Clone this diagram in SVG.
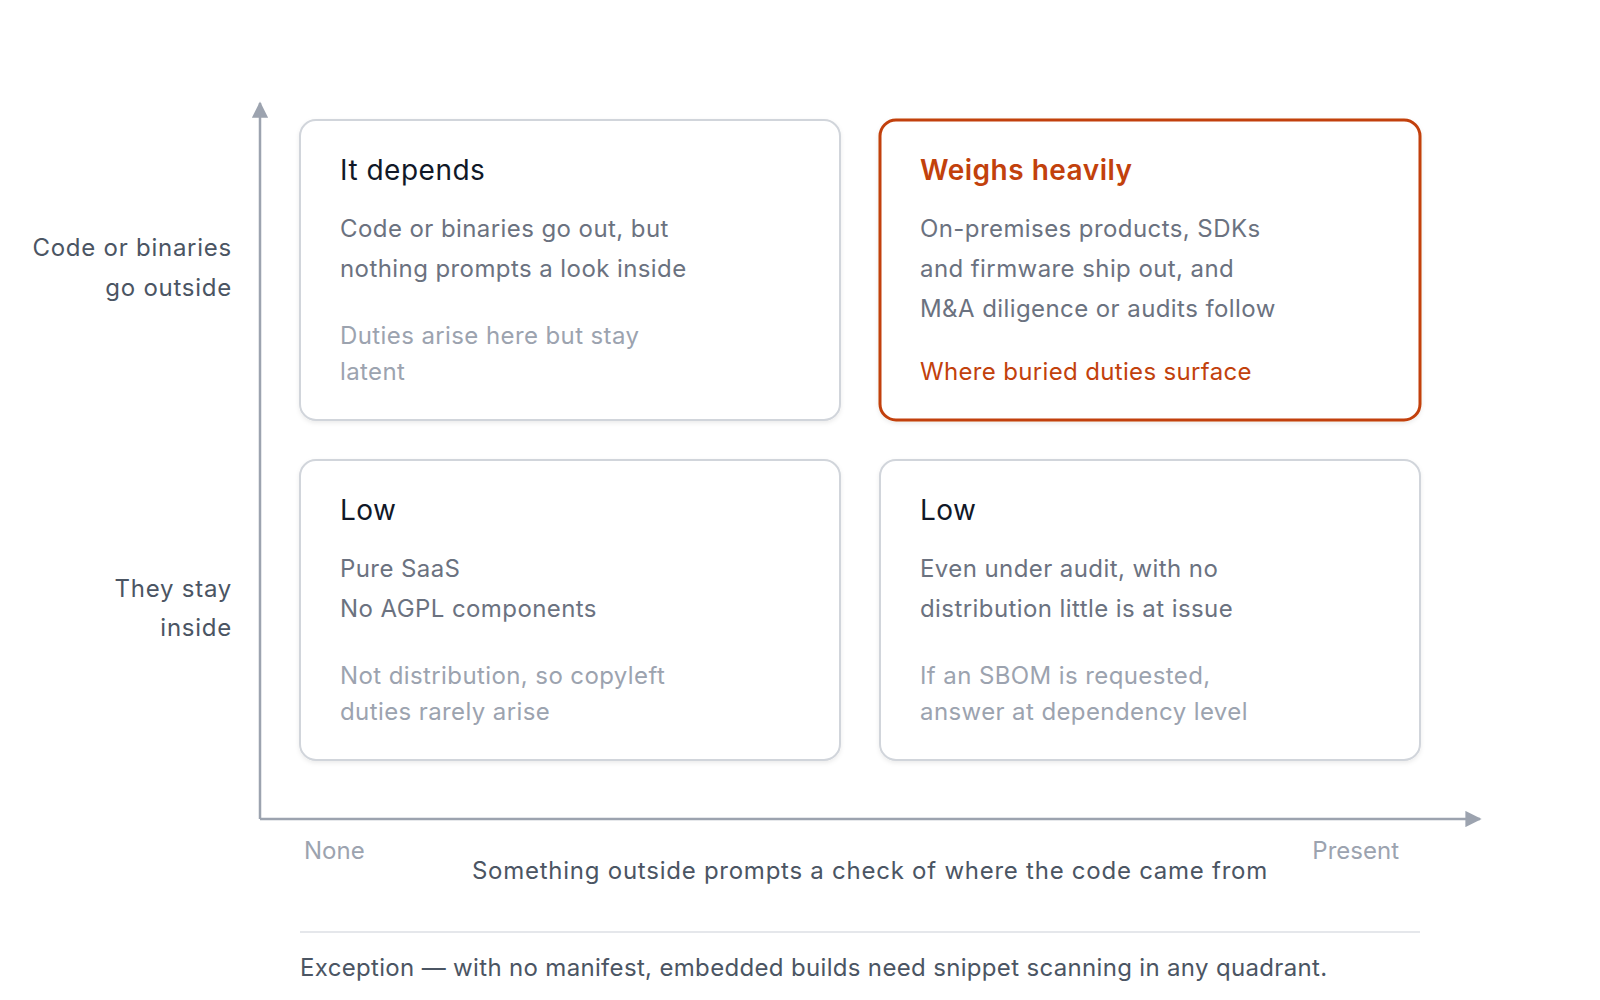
<svg xmlns="http://www.w3.org/2000/svg" width="1600" height="1000" viewBox="0 0 1600 1000">
<style>
text{font-family:Inter,"Noto Sans","Liberation Sans",sans-serif}
.card{fill:#fff;stroke:#d1d5db;stroke-width:2}
.hot{fill:#fff;stroke:#c2410c;stroke-width:3}
.title{font-size:28px;fill:#111827;letter-spacing:0.5px}
.htitle{font-size:28px;fill:#c2410c;font-weight:600;letter-spacing:0.5px}
.body{font-size:24px;fill:#6b7280;letter-spacing:0.42px}
.muted{font-size:24px;fill:#9ca3af;letter-spacing:0.4px}
.accent{font-size:24px;fill:#c2410c;letter-spacing:0.34px}
.axlab{font-size:24px;fill:#4b5563;letter-spacing:0.75px}
.foot{font-size:24px;fill:#4b5563;letter-spacing:0.33px}
.tick{font-size:24px;fill:#9ca3af}
.axis{stroke:#9ca3af;stroke-width:2.5;fill:none}
</style>
<defs>
<filter id="sh" x="-5%" y="-5%" width="110%" height="115%"><feDropShadow dx="0" dy="2" stdDeviation="2" flood-color="#000" flood-opacity="0.08"/></filter>
<marker id="arr" viewBox="0 0 10 10" refX="9" refY="5" markerWidth="6.5" markerHeight="6.5" orient="auto" markerUnits="strokeWidth"><path d="M0,0L10,5L0,10z" fill="#9ca3af"/></marker>
</defs>
<rect width="1600" height="1000" fill="#fff"/>
<g id="connectors">
<path class="axis" d="M260,819V103" marker-end="url(#arr)"/>
<path class="axis" d="M260,819H1480" marker-end="url(#arr)"/>
</g>
<g id="y-labels">
<text class="axlab" x="232" y="256" text-anchor="end">Code or binaries</text>
<text class="axlab" x="232" y="296" text-anchor="end">go outside</text>
<text class="axlab" x="232" y="597" text-anchor="end">They stay</text>
<text class="axlab" x="232" y="636" text-anchor="end">inside</text>
</g>
<g id="q-it-depends">
<rect class="card" filter="url(#sh)" x="300" y="120" width="540" height="300" rx="16"/>
<text class="title" x="340" y="180">It depends</text>
<text class="body" x="340" y="237">Code or binaries go out, but</text>
<text class="body" x="340" y="277">nothing prompts a look inside</text>
<text class="muted" x="340" y="344">Duties arise here but stay</text>
<text class="muted" x="340" y="380">latent</text>
</g>
<g id="q-weighs-heavily">
<rect class="hot" filter="url(#sh)" x="880" y="120" width="540" height="300" rx="16"/>
<text class="htitle" x="920" y="180">Weighs heavily</text>
<text class="body" x="920" y="237">On-premises products, SDKs</text>
<text class="body" x="920" y="277">and firmware ship out, and</text>
<text class="body" x="920" y="317">M&amp;A diligence or audits follow</text>
<text class="accent" x="920" y="380">Where buried duties surface</text>
</g>
<g id="q-low-left">
<rect class="card" filter="url(#sh)" x="300" y="460" width="540" height="300" rx="16"/>
<text class="title" x="340" y="520">Low</text>
<text class="body" x="340" y="577">Pure SaaS</text>
<text class="body" x="340" y="617">No AGPL components</text>
<text class="muted" x="340" y="684">Not distribution, so copyleft</text>
<text class="muted" x="340" y="720">duties rarely arise</text>
</g>
<g id="q-low-right">
<rect class="card" filter="url(#sh)" x="880" y="460" width="540" height="300" rx="16"/>
<text class="title" x="920" y="520">Low</text>
<text class="body" x="920" y="577">Even under audit, with no</text>
<text class="body" x="920" y="617">distribution little is at issue</text>
<text class="muted" x="920" y="684">If an SBOM is requested,</text>
<text class="muted" x="920" y="720">answer at dependency level</text>
</g>
<g id="x-labels">
<text class="tick" x="304" y="859">None</text>
<text class="tick" x="1399" y="859" text-anchor="end">Present</text>
<text class="axlab" x="870" y="879" text-anchor="middle">Something outside prompts a check of where the code came from</text>
</g>
<line x1="300" y1="932" x2="1420" y2="932" stroke="#e5e7eb" stroke-width="2"/>
<text class="foot" x="300" y="976">Exception — with no manifest, embedded builds need snippet scanning in any quadrant.</text>
</svg>
